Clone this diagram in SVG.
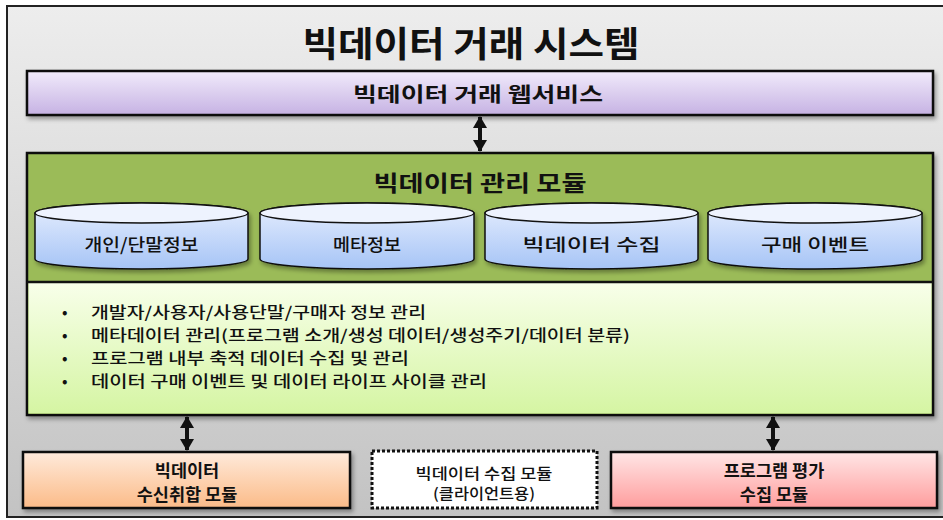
<svg xmlns="http://www.w3.org/2000/svg" width="943" height="520" viewBox="0 0 943 520">
<style>
.t{font-family:"Noto Sans CJK KR","Noto Sans",sans-serif;fill:#111;text-anchor:middle;dominant-baseline:central}
.b{font-weight:bold}
.m{font-weight:500}
.box{stroke:#111;stroke-width:2.5}
.cyl{stroke:#111;stroke-width:1.5}
.bul{font-family:"Noto Sans CJK KR","Noto Sans",sans-serif;fill:#111;font-size:15.5px;font-weight:500;dominant-baseline:central}
</style>
<defs>
<linearGradient id="gBg" x1="0" y1="0" x2="0" y2="1"><stop offset="0" stop-color="#ededed"/><stop offset="1" stop-color="#c3c3c3"/></linearGradient>
<linearGradient id="gPur" x1="0" y1="0" x2="0" y2="1"><stop offset="0" stop-color="#f1ebfb"/><stop offset="1" stop-color="#c6b2e3"/></linearGradient>
<linearGradient id="gYel" x1="0" y1="0" x2="0" y2="1"><stop offset="0" stop-color="#f8ffea"/><stop offset="1" stop-color="#d5f5a3"/></linearGradient>
<linearGradient id="gCyl" x1="0" y1="0" x2="0" y2="1"><stop offset="0" stop-color="#e6eefe"/><stop offset="1" stop-color="#a6c4f6"/></linearGradient>
<linearGradient id="gOr" x1="0" y1="0" x2="0" y2="1"><stop offset="0" stop-color="#ffeadb"/><stop offset="1" stop-color="#fbbb88"/></linearGradient>
<linearGradient id="gPk" x1="0" y1="0" x2="0" y2="1"><stop offset="0" stop-color="#ffe6e6"/><stop offset="1" stop-color="#ff9d9d"/></linearGradient>
<filter id="sh" x="-5%" y="-20%" width="110%" height="150%"><feDropShadow dx="2" dy="3" stdDeviation="2" flood-color="#000" flood-opacity="0.35"/></filter>
<marker id="ah" viewBox="0 0 12 14" refX="11" refY="7" markerWidth="12" markerHeight="14" markerUnits="userSpaceOnUse" orient="auto-start-reverse"><path d="M0,0 L12,7 L0,14 Z" fill="#111"/></marker>
</defs>

<g id="frame">
<rect x="7" y="6" width="942" height="511" fill="url(#gBg)" stroke="#222" stroke-width="2"/>
<text class="t b" x="471" y="41" font-size="35" textLength="337" lengthAdjust="spacingAndGlyphs">빅데이터 거래 시스템</text>
</g>

<g id="web">
<rect class="box" x="27" y="71" width="906" height="44" fill="url(#gPur)" filter="url(#sh)"/>
<text class="t b" x="478" y="93" font-size="20" textLength="250" lengthAdjust="spacingAndGlyphs">빅데이터 거래 웹서비스</text>
</g>

<g id="mgmt">
<rect class="box" x="27" y="153" width="906" height="262" fill="#9bbb59" filter="url(#sh)"/>
<rect x="28.5" y="282" width="903" height="131.5" fill="url(#gYel)"/>
<line x1="27" y1="282" x2="933" y2="282" stroke="#111" stroke-width="2.5"/>
<text class="t b" x="480" y="181" font-size="22" textLength="213" lengthAdjust="spacingAndGlyphs">빅데이터 관리 모듈</text>
<text class="bul" x="62" y="311">•</text>
<text class="bul" x="91" y="311" textLength="335" lengthAdjust="spacingAndGlyphs">개발자/사용자/사용단말/구매자 정보 관리</text>
<text class="bul" x="62" y="334">•</text>
<text class="bul" x="91" y="334" textLength="539" lengthAdjust="spacingAndGlyphs">메타데이터 관리(프로그램 소개/생성 데이터/생성주기/데이터 분류)</text>
<text class="bul" x="62" y="357">•</text>
<text class="bul" x="91" y="357" textLength="318" lengthAdjust="spacingAndGlyphs">프로그램 내부 축적 데이터 수집 및 관리</text>
<text class="bul" x="62" y="380">•</text>
<text class="bul" x="91" y="380" textLength="396" lengthAdjust="spacingAndGlyphs">데이터 구매 이벤트 및 데이터 라이프 사이클 관리</text>
</g>

<g id="cyl1">
<path class="cyl" d="M35,213 L35,259 A106.5,10 0 0 0 248,259 L248,213 A106.5,10 0 0 0 35,213 Z" fill="url(#gCyl)" filter="url(#sh)"/>
<ellipse class="cyl" cx="141.5" cy="213" rx="106.5" ry="10" fill="#eef3fe"/>
<text class="t m" x="141.5" y="243" font-size="17.5" textLength="114" lengthAdjust="spacingAndGlyphs">개인/단말정보</text>
</g>
<g id="cyl2">
<path class="cyl" d="M260,213 L260,259 A107,10 0 0 0 474,259 L474,213 A107,10 0 0 0 260,213 Z" fill="url(#gCyl)" filter="url(#sh)"/>
<ellipse class="cyl" cx="367" cy="213" rx="107" ry="10" fill="#eef3fe"/>
<text class="t m" x="367" y="243" font-size="17.5" textLength="68" lengthAdjust="spacingAndGlyphs">메타정보</text>
</g>
<g id="cyl3">
<path class="cyl" d="M485,213 L485,259 A106.5,10 0 0 0 698,259 L698,213 A106.5,10 0 0 0 485,213 Z" fill="url(#gCyl)" filter="url(#sh)"/>
<ellipse class="cyl" cx="591.5" cy="213" rx="106.5" ry="10" fill="#eef3fe"/>
<text class="t m" x="591.5" y="243" font-size="17.5" textLength="138" lengthAdjust="spacingAndGlyphs">빅데이터 수집</text>
</g>
<g id="cyl4">
<path class="cyl" d="M708,213 L708,259 A107,10 0 0 0 922,259 L922,213 A107,10 0 0 0 708,213 Z" fill="url(#gCyl)" filter="url(#sh)"/>
<ellipse class="cyl" cx="815" cy="213" rx="107" ry="10" fill="#eef3fe"/>
<text class="t m" x="815" y="243" font-size="17.5" textLength="108" lengthAdjust="spacingAndGlyphs">구매 이벤트</text>
</g>

<g id="recv">
<rect class="box" x="23" y="452" width="327" height="56" fill="url(#gOr)" filter="url(#sh)"/>
<text class="t b" x="187" y="469" font-size="17.5">빅데이터</text>
<text class="t b" x="187" y="493" font-size="17.5">수신취합 모듈</text>
</g>
<g id="client">
<rect x="372" y="451" width="225" height="57" fill="#fff" stroke="#111" stroke-width="3" stroke-dasharray="3,2"/>
<text class="t m" x="484" y="472" font-size="15" textLength="137" lengthAdjust="spacingAndGlyphs">빅데이터 수집 모듈</text>
<text class="t m" x="484" y="492" font-size="15" textLength="102" lengthAdjust="spacingAndGlyphs">(클라이언트용)</text>
</g>
<g id="eval">
<rect class="box" x="611" y="452" width="326" height="56" fill="url(#gPk)" filter="url(#sh)"/>
<text class="t b" x="774" y="469" font-size="17.5">프로그램 평가</text>
<text class="t b" x="774" y="493" font-size="17.5">수집 모듈</text>
</g>

<g id="connectors" stroke="#111" stroke-width="4" fill="none">
<line x1="480" y1="117" x2="480" y2="151" marker-start="url(#ah)" marker-end="url(#ah)"/>
<line x1="187" y1="417" x2="187" y2="450" marker-start="url(#ah)" marker-end="url(#ah)"/>
<line x1="773" y1="417" x2="773" y2="450" marker-start="url(#ah)" marker-end="url(#ah)"/>
</g>
</svg>
